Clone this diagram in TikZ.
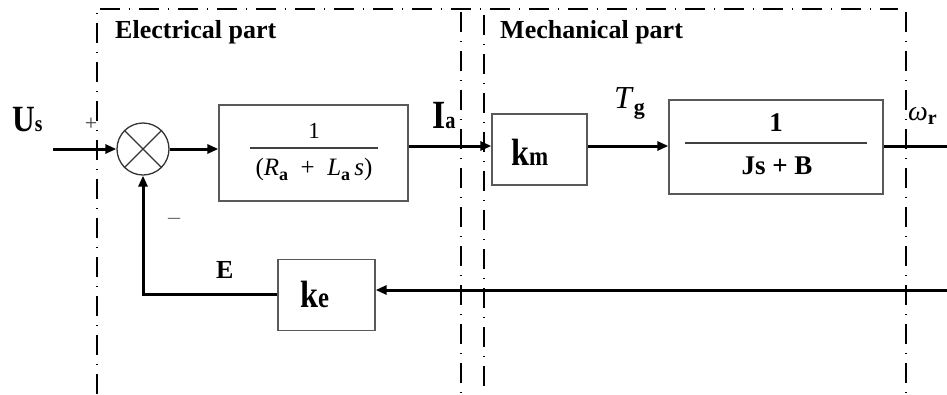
\documentclass[tikz,border=0pt]{standalone}
\usepackage{graphicx}
\usepackage{fontspec}
\setmainfont{Liberation Serif}
\usetikzlibrary{arrows.meta}
\newcommand{\fsz}[1]{\fontsize{#1}{#1}\selectfont}
\newcommand{\lowsub}[3]{\raisebox{-#1pt}{\fsz{#2}\bfseries #3}}
\begin{document}
\begin{tikzpicture}[x=1pt,y=-1pt,
  blockbox/.style={draw=black!65,line width=1.3pt,fill=white,inner sep=0pt},
  sig/.style={line width=3pt,-{Triangle[length=11pt,width=9pt]}},
  sigplain/.style={line width=3pt},
  fracline/.style={draw=black!75,line width=1.2pt},
  part/.style={line width=1.2pt,dash pattern=on 20pt off 9pt on 1pt off 9pt},
  lab/.style={inner sep=0pt,anchor=base west}]
\useasboundingbox (0,0) rectangle (947,394);
% partition frames
\draw[part] (97,394) -- (97,12);
\draw[part] (100,9) -- (898,9);
\draw[part] (461,12) -- (461,394);
\draw[part] (484,15) -- (484,394);
\draw[part] (906,12) -- (906,394);
\node[lab] (elab) at (115,38) {\fsz{26}\bfseries Electrical part};
\node[lab] (mlab) at (500,38) {\fsz{26}\bfseries Mechanical part};
% blocks
\node[circle,draw=black!80,line width=1.3pt,minimum size=52pt,inner sep=0pt] (sum) at (143,149) {};
\draw[black!80,line width=1.1pt] (sum.north east) -- (sum.south west) (sum.north west) -- (sum.south east);
\node[blockbox,minimum width=189pt,minimum height=96pt] (b1) at (313.5,153) {};
\node[inner sep=0pt] (n1) at (314,131) {\fsz{23}1};
\draw[fracline] (250,148) -- (378,148);
\node[inner sep=0pt] (d1) at (314,169) {\fsz{25}(\textit{R}\lowsub{5}{18}{a}\enspace+\enspace\textit{L}\lowsub{5}{18}{a}\,\textit{s})};
\node[blockbox,minimum width=95pt,minimum height=71pt] (km) at (539.5,149.5) {};
\node[lab] (kmt) at (511,165) {\scalebox{0.85}[1]{\bfseries\fsz{38}k\fsz{27}m}};
\node[blockbox,minimum width=214pt,minimum height=94pt] (b2) at (776,147) {};
\node[inner sep=0pt] (n2) at (776,123) {\fsz{27}\bfseries 1};
\draw[fracline] (685,143) -- (867,143);
\node[inner sep=0pt] (d2) at (777,166) {\fsz{27}\bfseries Js + B};
\node[blockbox,minimum width=97pt,minimum height=71pt] (ke) at (326.5,295) {};
\node[lab] (ket) at (300,307) {\scalebox{0.85}[1]{\bfseries\fsz{38}k\fsz{29}e}};
% signals
\coordinate (in) at (53,149);
\coordinate (out) at (947,146);
\coordinate (fb) at (947,290);
\draw[sig] (in) -- (sum.west);
\draw[sig] (sum.east) -- (b1.west |- sum);
\draw[sig] (b1.east |- 0,146) -- (km.west |- 0,146);
\draw[sig] (km.east |- 0,146) -- (b2.west |- 0,146);
\draw[sigplain] (b2.east |- out) -- (out);
\draw[sig] (fb) -- (ke.east |- fb);
\draw[sig] (ke.west |- 0,294) -- (sum.south |- 0,294) -- (sum.south);
% labels
\node[lab] (us) at (12,131) {\scalebox{0.85}[1]{\bfseries\fsz{37}U\fsz{23}s}};
\node[inner sep=0pt,text=black!75] (plus) at (91,124) {\fsz{22}+};
\node[inner sep=0pt,text=black!55] (minus) at (174,221) {\fsz{24}–};
\node[lab] (ia) at (432,128) {\scalebox{0.85}[1]{\bfseries\fsz{40}I\fsz{24}a}};
\node[lab] (tg) at (614,108) {\fsz{32}\textit{T}\lowsub{6}{22}{g}};
\node[lab] (wr) at (908,120) {\fsz{28}\textit{ω}\lowsub{4}{20}{r}};
\node[lab] (e) at (216,278) {\fsz{26}\bfseries E};
\end{tikzpicture}
\end{document}
